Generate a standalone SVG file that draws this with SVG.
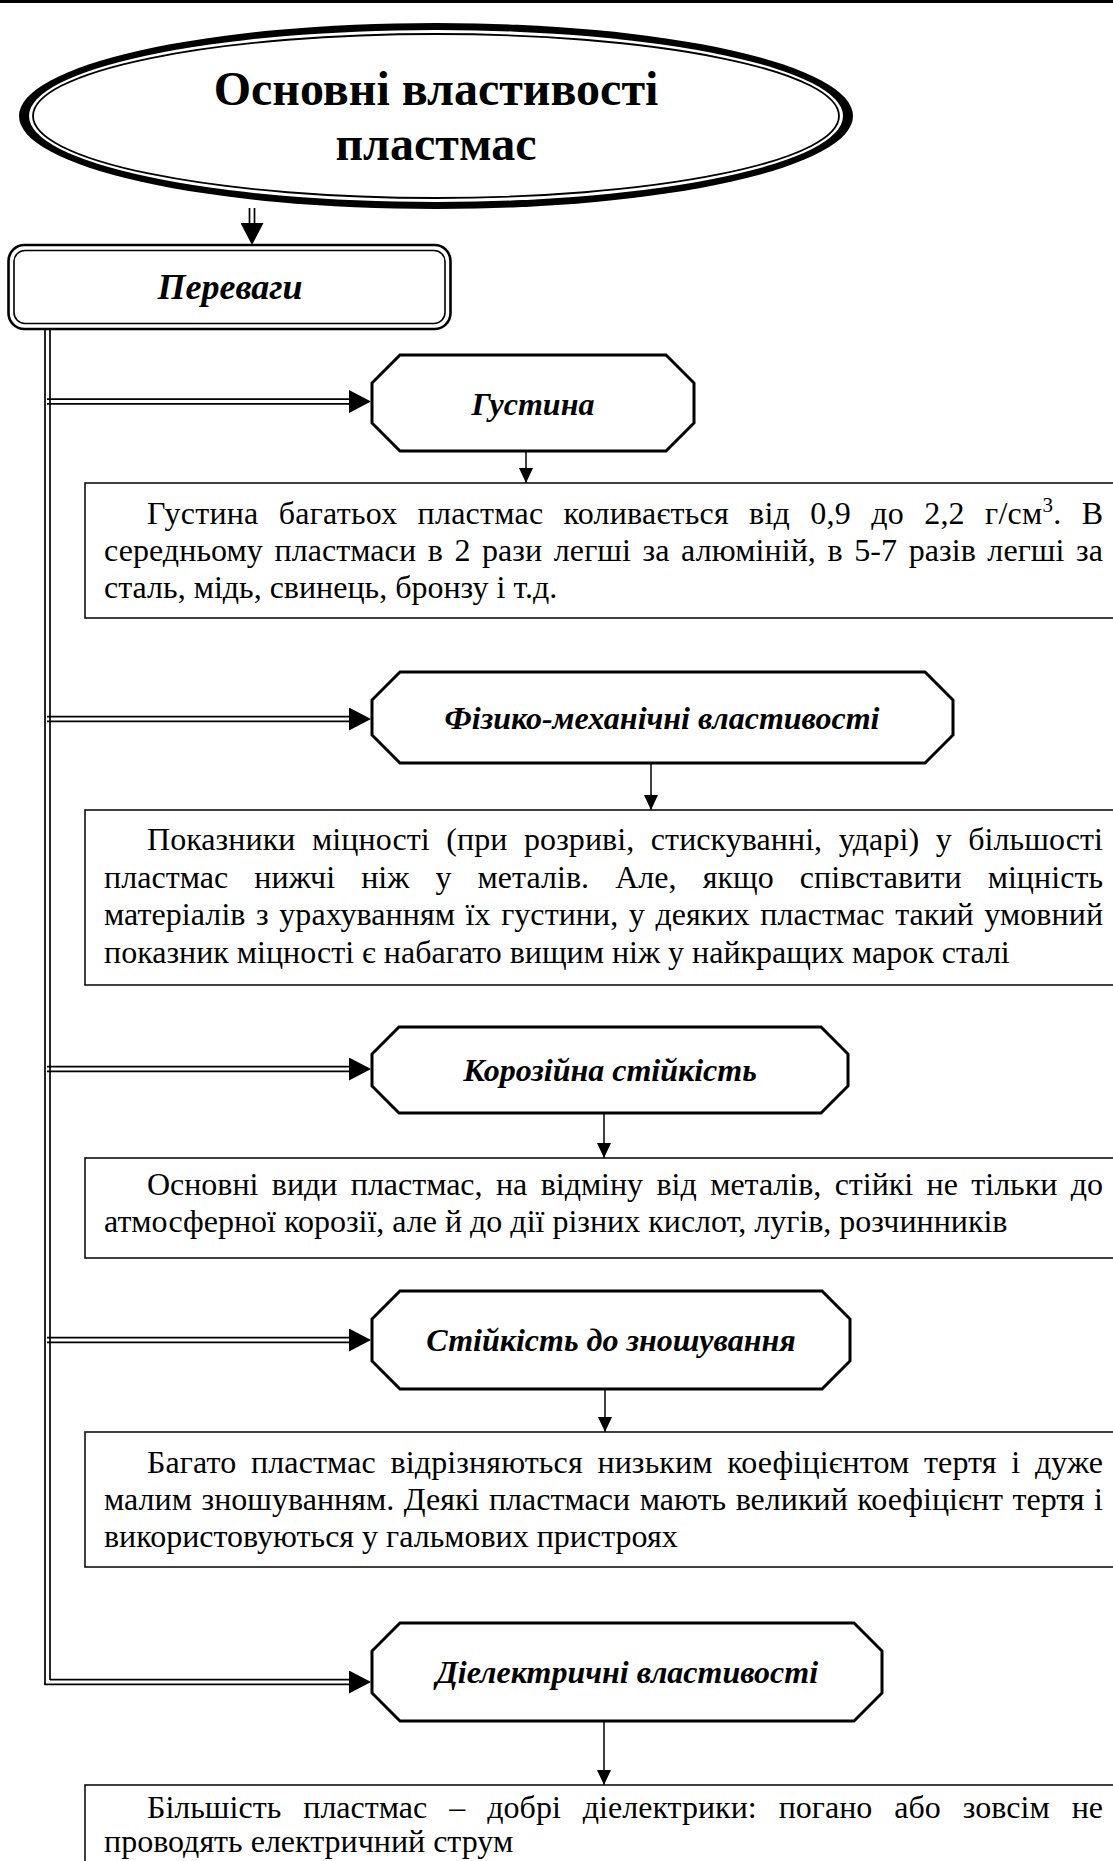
<svg xmlns="http://www.w3.org/2000/svg" width="1113" height="1861" viewBox="0 0 1113 1861">
  <style>
    .body { font-family: "Liberation Serif", "Times New Roman", serif; font-size: 32px; fill: #000; }
    .lbl { font-family: "Liberation Serif", "Times New Roman", serif; font-size: 32px; font-weight: bold; font-style: italic; fill: #000; text-anchor: middle; }
    .oct { fill: #fff; stroke: #000; stroke-width: 3; stroke-linejoin: miter; }
    .box { fill: #fff; stroke: #111; stroke-width: 1.6; }
    .dbl { stroke: #000; stroke-width: 1.7; fill: none; }
    .thin { stroke: #000; stroke-width: 1.5; fill: none; }
    .guide { stroke: none; fill: none; }
  </style>
  <defs>
    <marker id="bigHead" markerUnits="userSpaceOnUse" viewBox="0 0 22 23" refX="22" refY="11.5" markerWidth="22" markerHeight="23" orient="auto">
      <path d="M0,0 L22,11.5 L0,23 Z" fill="#000"/>
    </marker>
    <marker id="smallHead" markerUnits="userSpaceOnUse" viewBox="0 0 15 14" refX="15" refY="7" markerWidth="15" markerHeight="14" orient="auto">
      <path d="M0,0 L15,7 L0,14 Z" fill="#000"/>
    </marker>
  </defs>

  <rect width="1113" height="1861" fill="#fff"/>
  <!-- page rule -->
  <rect x="0" y="0" width="1113" height="3" fill="#000"/>

  <!-- title ellipse: thick-thin double outline -->
  <g id="title">
    <ellipse cx="436" cy="116" rx="417" ry="93" fill="#000"/>
    <ellipse cx="436" cy="116" rx="407" ry="86" fill="#fff"/>
    <ellipse cx="436" cy="116" rx="403" ry="82" fill="none" stroke="#000" stroke-width="1.8"/>
    <text x="436" y="105" font-family="Liberation Serif, Times New Roman, serif" font-size="48" font-weight="bold" text-anchor="middle">Основні властивості</text>
    <text x="436" y="160" font-family="Liberation Serif, Times New Roman, serif" font-size="48" font-weight="bold" text-anchor="middle">пластмас</text>
  </g>

  <!-- advantages header -->
  <g id="advantages">
    <rect x="8.5" y="245" width="442" height="84" rx="16" fill="#fff" stroke="#000" stroke-width="2.6"/>
    <rect x="14" y="250.5" width="431" height="73" rx="11" fill="none" stroke="#000" stroke-width="1.6"/>
    <text x="230" y="299" font-family="Liberation Serif, Times New Roman, serif" font-size="36" font-weight="bold" font-style="italic" text-anchor="middle">Переваги</text>
  </g>

  <!-- connectors -->
  <g id="connectors">
    <!-- title to header -->
    <line class="dbl" x1="249.5" y1="208" x2="249.5" y2="226"/>
    <line class="dbl" x1="254.5" y1="208" x2="254.5" y2="226"/>
    <path class="guide" d="M252,209 L252,245" marker-end="url(#bigHead)"/>

    <!-- trunk -->
    <line class="dbl" x1="45" y1="330" x2="45" y2="1685"/>
    <line class="dbl" x1="50" y1="330" x2="50" y2="1680"/>

    <!-- branches -->
    <line class="dbl" x1="47" y1="399.2" x2="352" y2="399.2"/>
    <line class="dbl" x1="47" y1="403.8" x2="352" y2="403.8"/>
    <path class="guide" d="M300,401.5 L371,401.5" marker-end="url(#bigHead)"/>

    <line class="dbl" x1="47" y1="716.7" x2="352" y2="716.7"/>
    <line class="dbl" x1="47" y1="721.3" x2="352" y2="721.3"/>
    <path class="guide" d="M300,719 L371,719" marker-end="url(#bigHead)"/>

    <line class="dbl" x1="47" y1="1066.7" x2="352" y2="1066.7"/>
    <line class="dbl" x1="47" y1="1071.3" x2="352" y2="1071.3"/>
    <path class="guide" d="M300,1069 L371,1069" marker-end="url(#bigHead)"/>

    <line class="dbl" x1="47" y1="1337.7" x2="352" y2="1337.7"/>
    <line class="dbl" x1="47" y1="1342.3" x2="352" y2="1342.3"/>
    <path class="guide" d="M300,1340 L371,1340" marker-end="url(#bigHead)"/>

    <line class="dbl" x1="50" y1="1679.7" x2="352" y2="1679.7"/>
    <line class="dbl" x1="44.2" y1="1684.3" x2="352" y2="1684.3"/>
    <path class="guide" d="M300,1682 L371,1682" marker-end="url(#bigHead)"/>

    <!-- heading to description -->
    <path class="thin" d="M526,452 L526,483" marker-end="url(#smallHead)"/>
    <path class="thin" d="M651,764 L651,810" marker-end="url(#smallHead)"/>
    <path class="thin" d="M604,1114 L604,1158" marker-end="url(#smallHead)"/>
    <path class="thin" d="M605,1390 L605,1432" marker-end="url(#smallHead)"/>
    <path class="thin" d="M604,1722 L604,1785" marker-end="url(#smallHead)"/>
  </g>

  <!-- density -->
  <g id="density">
    <path class="oct" d="M400,355 L666,355 L694,383 L694,423 L666,451 L400,451 L372,423 L372,383 Z"/>
    <text class="lbl" x="533" y="415" font-size="35">Густина</text>
  </g>
  <g id="density-text">
    <rect class="box" x="85" y="483" width="1040" height="135"/>
    <text class="body" x="147" y="524" textLength="956" lengthAdjust="spacing" word-spacing="12">Густина багатьох пластмас коливається від 0,9 до 2,2 г/см<tspan dy="-12" font-size="21">3</tspan><tspan dy="12">. В</tspan></text>
    <text class="body" x="104" y="561" textLength="999" lengthAdjust="spacing" word-spacing="3.5">середньому пластмаси в 2 рази легші за алюміній, в 5-7 разів легші за</text>
    <text class="body" x="104" y="598">сталь, мідь, свинець, бронзу і т.д.</text>
  </g>

  <!-- mechanical properties -->
  <g id="mechanical">
    <path class="oct" d="M400,672 L925,672 L953,700 L953,735 L925,763 L400,763 L372,735 L372,700 Z"/>
    <text class="lbl" x="662" y="729">Фізико-механічні властивості</text>
  </g>
  <g id="mechanical-text">
    <rect class="box" x="85" y="810" width="1040" height="175"/>
    <text class="body" x="147" y="850" textLength="956" lengthAdjust="spacing" word-spacing="8.5">Показники міцності (при розриві, стискуванні, ударі) у більшості</text>
    <text class="body" x="104" y="887.5" textLength="999" lengthAdjust="spacing" word-spacing="18">пластмас нижчі ніж у металів. Але, якщо співставити міцність</text>
    <text class="body" x="104" y="925" textLength="999" lengthAdjust="spacing" word-spacing="2.5">матеріалів з урахуванням їх густини, у деяких пластмас такий умовний</text>
    <text class="body" x="104" y="962.5">показник міцності є набагато вищим ніж у найкращих марок сталі</text>
  </g>

  <!-- corrosion resistance -->
  <g id="corrosion">
    <path class="oct" d="M399,1027 L821,1027 L848,1054 L848,1086 L821,1113 L399,1113 L372,1086 L372,1054 Z"/>
    <text class="lbl" x="610" y="1081">Корозійна стійкість</text>
  </g>
  <g id="corrosion-text">
    <rect class="box" x="85" y="1158" width="1040" height="100"/>
    <text class="body" x="147" y="1195" textLength="956" lengthAdjust="spacing" word-spacing="5.5">Основні види пластмас, на відміну від металів, стійкі не тільки до</text>
    <text class="body" x="104" y="1232">атмосферної корозії, але й до дії різних кислот, лугів, розчинників</text>
  </g>

  <!-- wear resistance -->
  <g id="wear">
    <path class="oct" d="M400,1291 L822,1291 L850,1319 L850,1361 L822,1389 L400,1389 L372,1361 L372,1319 Z"/>
    <text class="lbl" x="611" y="1351">Стійкість до зношування</text>
  </g>
  <g id="wear-text">
    <rect class="box" x="85" y="1432" width="1040" height="135"/>
    <text class="body" x="147" y="1472.5" textLength="956" lengthAdjust="spacing" word-spacing="6.5">Багато пластмас відрізняються низьким коефіцієнтом тертя і дуже</text>
    <text class="body" x="104" y="1510" textLength="999" lengthAdjust="spacing" word-spacing="1.5">малим зношуванням. Деякі пластмаси мають великий коефіцієнт тертя і</text>
    <text class="body" x="104" y="1547">використовуються у гальмових пристроях</text>
  </g>

  <!-- dielectric properties -->
  <g id="dielectric">
    <path class="oct" d="M400,1623 L854,1623 L882,1651 L882,1693 L854,1721 L400,1721 L372,1693 L372,1651 Z"/>
    <text class="lbl" x="627" y="1683">Діелектричні властивості</text>
  </g>
  <g id="dielectric-text">
    <rect class="box" x="85" y="1785" width="1040" height="120"/>
    <text class="body" x="147" y="1818" textLength="956" lengthAdjust="spacing" word-spacing="14">Більшість пластмас – добрі діелектрики: погано або зовсім не</text>
    <text class="body" x="104" y="1852">проводять електричний струм</text>
  </g>
</svg>
